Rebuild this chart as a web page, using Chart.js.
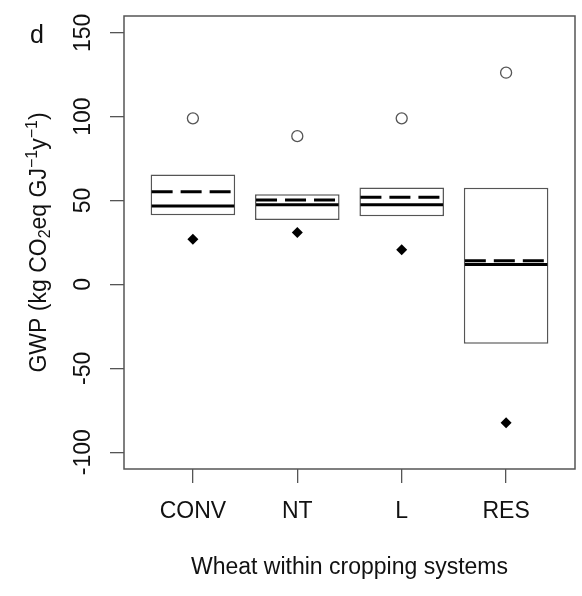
<!DOCTYPE html>
<html>
<head>
<meta charset="utf-8">
<script src="https://cdn.jsdelivr.net/npm/chart.js@4.4.1/dist/chart.umd.min.js"></script>
<style>
  html, body { margin: 0; padding: 0; background: #fff; }
  #wrap { width: 582px; height: 596px; }
</style>
</head>
<body>
<div id="wrap"><canvas id="gwp"></canvas></div>
<script>
// wheat GWP per system
const categories = ['CONV', 'NT', 'L', 'RES'];
const lowerQ = [41.3, 38.4, 40.7, -35.4];
const upperQ = [65.6, 53.7, 57.8, 57.6];
const medians = [46.8, 47.5, 47.5, 11.9];
const means = [55.3, 50.3, 52.0, 14.1];
const maxima = [99, 88.4, 99, 126.2];
const minima = [27, 31, 20.7, -82.5];
const yTicks = [-100, -50, 0, 50, 100, 150];

const FONT = "'Liberation Sans', Arial, Helvetica, sans-serif";
const INK = '#111';
const FRAME = '#555';

Chart.defaults.font.family = FONT;
Chart.defaults.color = INK;

// median (solid) and mean (dashed) lines across each box
const centreLines = {
    id: 'centreLines',
    afterDatasetsDraw(chart) {
        const { ctx, scales: { y } } = chart;
        const bars = chart.getDatasetMeta(0).data;
        ctx.save();
        ctx.strokeStyle = '#000';
        ctx.lineWidth = 3;
        ctx.lineCap = 'butt';
        bars.forEach((bar, i) => {
            const left = bar.x - bar.width / 2 + 1;
            const right = bar.x + bar.width / 2 - 1;
            let py = y.getPixelForValue(medians[i]);
            ctx.setLineDash([]);
            ctx.beginPath();
            ctx.moveTo(left, py);
            ctx.lineTo(right, py);
            ctx.stroke();

            py = y.getPixelForValue(means[i]);
            ctx.setLineDash([21, 8]);
            ctx.beginPath();
            ctx.moveTo(left, py);
            ctx.lineTo(right, py);
            ctx.stroke();
        });
        ctx.restore();
    }
};

// frame, rotated y labels, y title with sub/superscripts, panel letter
const frameAndLabels = {
    id: 'frameAndLabels',
    afterDraw(chart) {
        const { ctx, chartArea: a, scales: { y } } = chart;
        ctx.save();
        ctx.strokeStyle = FRAME;
        ctx.lineWidth = 1.5;
        ctx.strokeRect(a.left, a.top, a.right - a.left, a.bottom - a.top);

        ctx.fillStyle = INK;
        ctx.font = '23px ' + FONT;
        ctx.textAlign = 'center';
        ctx.textBaseline = 'alphabetic';
        yTicks.forEach(v => {
            ctx.save();
            ctx.translate(90, y.getPixelForValue(v));
            ctx.rotate(-Math.PI / 2);
            ctx.fillText(String(v), 0, 0);
            ctx.restore();
        });

        // GWP (kg CO2eq GJ-1 y-1)
        const parts = [
            { t: 'GWP (kg CO', s: 23, dy: 0 },
            { t: '2', s: 16, dy: 4 },
            { t: 'eq GJ', s: 23, dy: 0 },
            { t: '\u22121', s: 16, dy: -9 },
            { t: 'y', s: 23, dy: 0 },
            { t: '\u22121', s: 16, dy: -9 },
            { t: ')', s: 23, dy: 0 }
        ];
        let total = 0;
        parts.forEach(p => {
            ctx.font = p.s + 'px ' + FONT;
            p.w = ctx.measureText(p.t).width;
            total += p.w;
        });
        ctx.save();
        ctx.translate(46, (a.top + a.bottom) / 2);
        ctx.rotate(-Math.PI / 2);
        ctx.textAlign = 'left';
        let x = -total / 2;
        parts.forEach(p => {
            ctx.font = p.s + 'px ' + FONT;
            ctx.fillText(p.t, x, p.dy);
            x += p.w;
        });
        ctx.restore();

        ctx.font = '25px ' + FONT;
        ctx.textAlign = 'left';
        ctx.fillText('d', 30, 43);
        ctx.restore();
    }
};

new Chart(document.getElementById('gwp'), {
    type: 'bar',
    data: {
        datasets: [
            {
                type: 'bar',
                data: categories.map((c, i) => ({ x: i + 1, y: [lowerQ[i], upperQ[i]] })),
                backgroundColor: '#fff',
                borderColor: FRAME,
                borderWidth: 1.5,
                borderSkipped: false,
                categoryPercentage: 0.81,
                barPercentage: 1
            },
            {
                type: 'scatter',
                data: maxima.map((v, i) => ({ x: i + 1, y: v })),
                pointStyle: 'circle',
                pointRadius: 5.5,
                borderColor: FRAME,
                borderWidth: 1.3,
                backgroundColor: 'rgba(255,255,255,0)'
            },
            {
                type: 'scatter',
                data: minima.map((v, i) => ({ x: i + 1, y: v })),
                pointStyle: 'rectRot',
                pointRadius: 5.5,
                borderWidth: 0,
                backgroundColor: '#000'
            }
        ]
    },
    options: {
        responsive: true,
        maintainAspectRatio: false,
        animation: false,
        layout: { padding: { top: 16, right: 7, left: 0, bottom: 0 } },
        plugins: {
            legend: { display: false },
            tooltip: { enabled: false }
        },
        scales: {
            x: {
                type: 'linear',
                min: 0.34,
                max: 4.66,
                offset: false,
                afterBuildTicks: s => { s.ticks = categories.map((c, i) => ({ value: i + 1 })); },
                afterFit: s => { s.height = 127; },
                ticks: {
                    autoSkip: false,
                    maxRotation: 0,
                    padding: 15,
                    font: { size: 23 },
                    callback: v => categories[v - 1]
                },
                grid: {
                    offset: false,
                    drawOnChartArea: false,
                    drawTicks: true,
                    tickLength: 14,
                    color: FRAME,
                    lineWidth: 1.3
                },
                border: { display: false },
                title: {
                    display: true,
                    text: 'Wheat within cropping systems',
                    font: { size: 23 },
                    padding: { top: 0, bottom: 15 }
                }
            },
            y: {
                type: 'linear',
                min: -110,
                max: 160,
                afterBuildTicks: s => { s.ticks = yTicks.map(v => ({ value: v })); },
                afterFit: s => { s.width = 124; },
                ticks: { display: false },
                grid: {
                    drawOnChartArea: false,
                    drawTicks: true,
                    tickLength: 14,
                    color: FRAME,
                    lineWidth: 1.3
                },
                border: { display: false }
            }
        }
    },
    plugins: [centreLines, frameAndLabels]
});
</script>
</body>
</html>
